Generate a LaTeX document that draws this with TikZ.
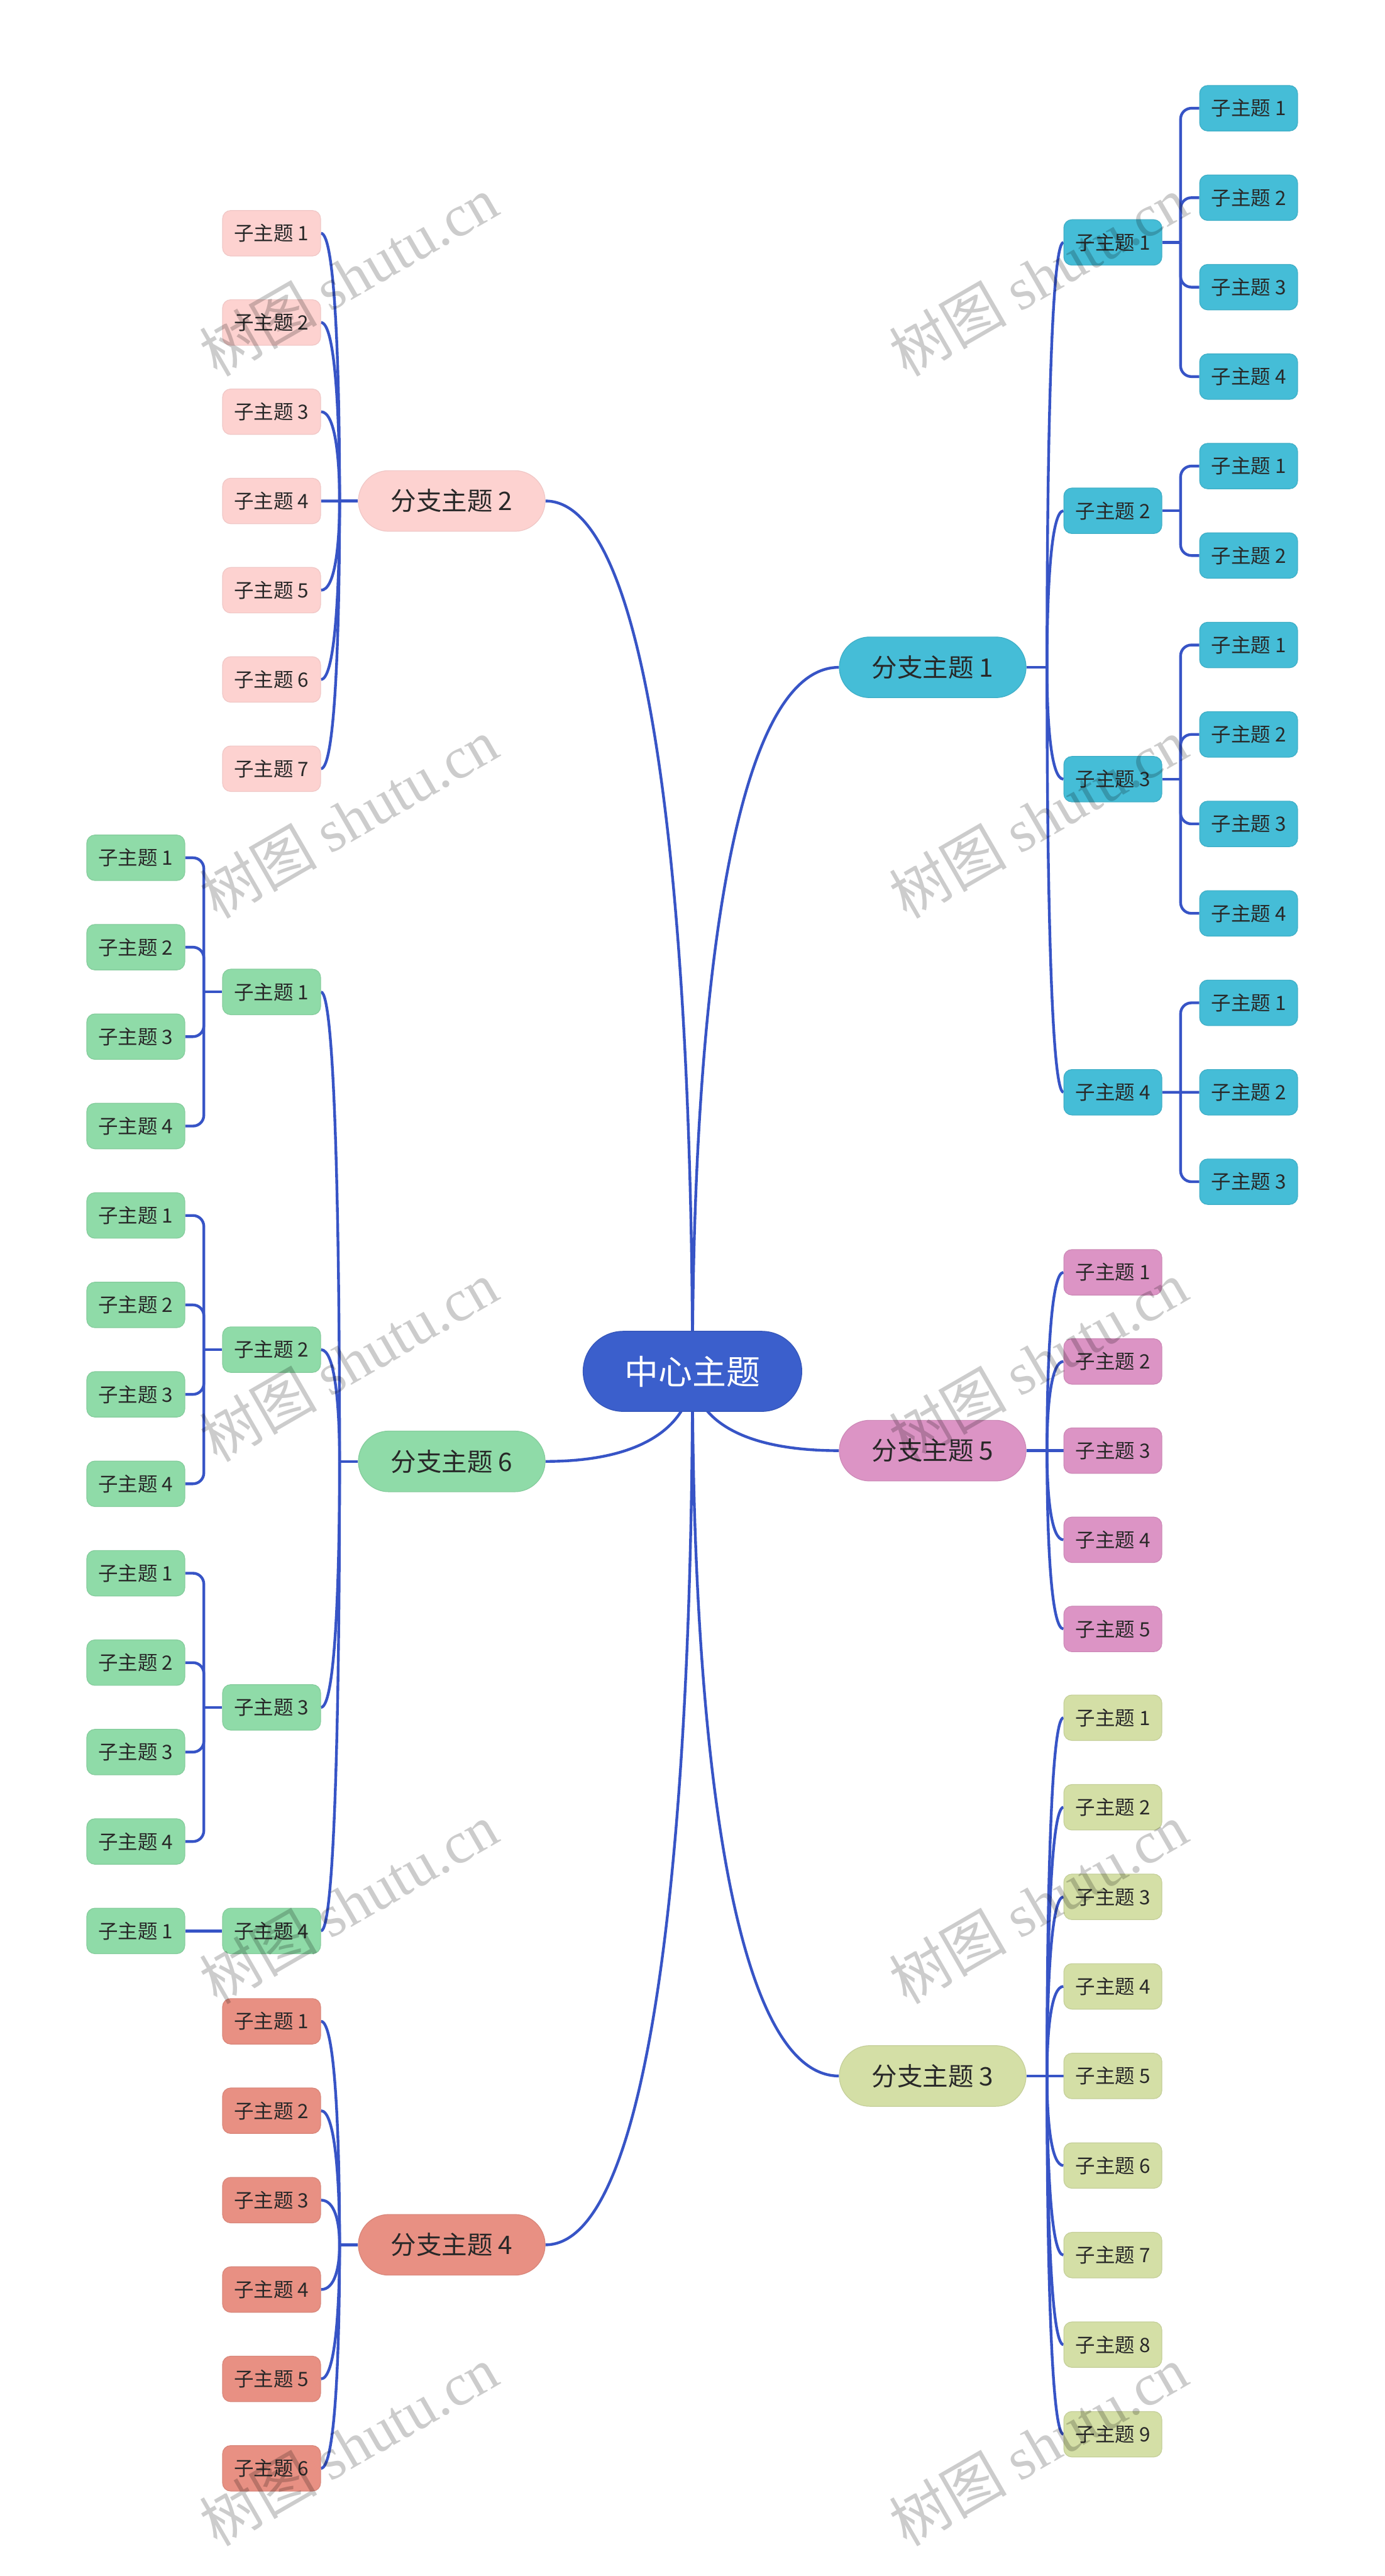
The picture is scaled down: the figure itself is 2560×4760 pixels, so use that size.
\documentclass[tikz,border=0pt]{standalone}
\usepackage{fontspec}
\setmainfont{Noto Sans CJK SC}
\newfontfamily\wmfont{Liberation Serif}
\usetikzlibrary{calc,backgrounds}

\definecolor{lineblue}{RGB}{55,84,198}
\definecolor{centerblue}{RGB}{59,95,204}
\definecolor{cyanc}{RGB}{69,189,215}
\definecolor{pinkc}{RGB}{253,210,208}
\definecolor{greenc}{RGB}{143,219,168}
\definecolor{salmonc}{RGB}{232,144,131}
\definecolor{orchidc}{RGB}{220,148,197}
\definecolor{olivec}{RGB}{212,223,166}
\definecolor{txt}{RGB}{40,40,40}

\tikzset{
  conn/.style={draw=lineblue,line width=1.45pt},
  curvy/.style={to path={let \p1=(\tikztostart),\p2=(\tikztotarget) in
    .. controls (\x1,{0.5*(\y1+\y2)}) and ({\x1+0.25*(\x2-\x1)},\y2) .. (\tikztotarget)}},
  elbow/.style={conn,rounded corners=.2cm},
  leaf/.style={rounded corners=.15cm,minimum width=1.81cm,minimum height=.84cm,inner sep=0pt,
    text=txt,font=\fontsize{10.4}{12}\selectfont},
  branch/.style={rounded corners=.56cm,minimum width=3.45cm,minimum height=1.12cm,inner sep=0pt,
    text=txt,font=\fontsize{13.4}{16}\selectfont},
  cy/.style={fill=cyanc,draw=cyanc!92!black,line width=.4pt},
  pk/.style={fill=pinkc,draw=pinkc!95!black,line width=.4pt},
  gr/.style={fill=greenc,draw=greenc!93!black,line width=.4pt},
  sa/.style={fill=salmonc,draw=salmonc!93!black,line width=.4pt},
  or/.style={fill=orchidc,draw=orchidc!93!black,line width=.4pt},
  ol/.style={fill=olivec,draw=olivec!93!black,line width=.4pt},
  wmark/.style={rotate=30,text=black,text opacity=.2,font=\fontsize{31}{31}\selectfont},
}

\begin{document}
\begin{tikzpicture}[x=.01cm,y=-.01cm]
\useasboundingbox (0,0) rectangle (2560,4760);

\node[fill=centerblue,draw=centerblue!90!black,line width=.4pt,rounded corners=.74cm,
  minimum width=4.04cm,minimum height=1.48cm,text=white,
  font=\fontsize{17.8}{20}\selectfont] (c) at (1280,2534) {中心主题};

% right side
\node[branch,cy] (b1) at (1724,1233.1) {分支主题 1};
\foreach \s/\y in {1/447.95,2/943.85,3/1439.75,4/2018.3}
  \node[leaf,cy] (b1s\s) at (2057,\y) {子主题 \s};
\foreach \s/\n/\k in {1/4/0,2/2/4,3/4/6,4/3/10}{
  \foreach \l in {1,...,\n}
    \node[leaf,cy] (l1\s\l) at (2308,{200+165.3*(\k+\l-1)}) {子主题 \l};}

\node[branch,or] (b5) at (1724,2680.5) {分支主题 5};
\foreach \s in {1,...,5}
  \node[leaf,or] (b5s\s) at (2057,{2351+164.75*(\s-1)}) {子主题 \s};

\node[branch,ol] (b3) at (1724,3836) {分支主题 3};
\foreach \s in {1,...,9}
  \node[leaf,ol] (b3s\s) at (2057,{3174+165.5*(\s-1)}) {子主题 \s};

% left side
\node[branch,pk] (b2) at (835,925.7) {分支主题 2};
\foreach \s in {1,...,7}
  \node[leaf,pk] (b2s\s) at (502,{431+164.9*(\s-1)}) {子主题 \s};

\node[branch,gr] (b6) at (835,2700.4) {分支主题 6};
\foreach \s/\y in {1/1832.9,2/2493.9,3/3154.9,4/3568}
  \node[leaf,gr] (b6s\s) at (502,\y) {子主题 \s};
\foreach \s/\n/\k in {1/4/0,2/4/4,3/4/8,4/1/12}{
  \foreach \l in {1,...,\n}
    \node[leaf,gr] (l6\s\l) at (251,{1585+165.25*(\k+\l-1)}) {子主题 \l};}

\node[branch,sa] (b4) at (835,4148) {分支主题 4};
\foreach \s in {1,...,6}
  \node[leaf,sa] (b4s\s) at (502,{3735+165.2*(\s-1)}) {子主题 \s};

\begin{scope}[on background layer]
\foreach \b/\a in {1/west,5/west,3/west,2/east,6/east,4/east}
  \draw[conn] (c.center) to[curvy] (b\b.\a);

% trunks
\foreach \b/\n in {1/4,5/5,3/9}{
  \coordinate (t\b) at ($(b\b.east)+(38,0)$);
  \draw[conn] (b\b.east) -- (t\b);
  \foreach \s in {1,...,\n} \draw[conn] (t\b) to[curvy] (b\b s\s.west);}
\foreach \b/\n in {2/7,6/4,4/6}{
  \coordinate (t\b) at ($(b\b.west)-(34,0)$);
  \draw[conn] (b\b.west) -- (t\b);
  \foreach \s in {1,...,\n} \draw[conn] (t\b) to[curvy] (b\b s\s.east);}

% elbows
\foreach \s/\n in {1/4,2/2,3/4}{
  \coordinate (j1\s) at ($(b1s\s.east)+(34,0)$);
  \draw[conn] (b1s\s.east) -- (j1\s);
  \foreach \l in {1,...,\n} \draw[elbow] (j1\s) |- (l1\s\l.west);}
\coordinate (j14) at ($(b1s4.east)+(34,0)$);
\draw[conn] (b1s4.east) -- (l142.west);
\foreach \l in {1,3} \draw[elbow] (j14) |- (l14\l.west);

\foreach \s in {1,2,3}{
  \coordinate (j6\s) at ($(b6s\s.west)-(34,0)$);
  \draw[conn] (b6s\s.west) -- (j6\s);
  \foreach \l in {1,...,4} \draw[elbow] (j6\s) |- (l6\s\l.east);}
\draw[conn] (b6s4.west) -- (l641.east);
\end{scope}

% watermark
\foreach \x in {644,1919}
  \foreach \y in {510,1512,2515,3517,4519}
    \node[wmark] (wm\x\y) at (\x,\y) {树图 {\wmfont shutu.cn}};
\end{tikzpicture}
\end{document}
